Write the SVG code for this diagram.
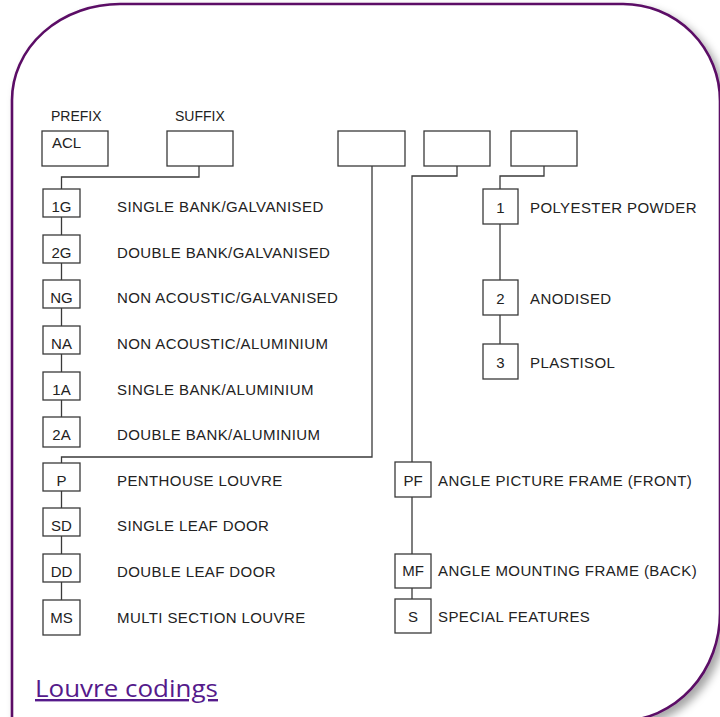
<svg xmlns="http://www.w3.org/2000/svg" width="720" height="717" viewBox="0 0 720 717">
<defs>
<filter id="sh" x="-10%" y="-10%" width="130%" height="130%">
<feDropShadow dx="5" dy="5" stdDeviation="4" flood-color="#000" flood-opacity="0.35"/>
</filter>
<style>
.b{fill:none;stroke:#3a3a3a;stroke-width:1.3}
.c{fill:none;stroke:#3a3a3a;stroke-width:1.3}
.t{font-family:"Liberation Sans",Arial,sans-serif;font-size:15px;fill:#222}
.d{letter-spacing:0.4px}
.h{font-size:14px}
.m{text-anchor:middle}
.lnk{font-family:"Open Sans","Noto Sans",sans-serif;font-size:24px;fill:#551A8B;text-decoration:underline}
</style>
</defs>
<rect width="720" height="717" fill="#fff"/>
<path id="frame" d="M12,722 L12,100 A108,96 0 0 1 120,4 L623,4 A97,97 0 0 1 720,101 L720,613 A100,108 0 0 1 621,721 L12,722 Z" fill="#fff" stroke="#5b0f66" stroke-width="2.6" filter="url(#sh)"/>

<g id="connectors">
<path class="c" d="M199,166 V177 H61.5 V189"/>
<path class="c" d="M61.5,217 V235 M61.5,263 V280 M61.5,308 V326 M61.5,354 V372 M61.5,400 V417"/>
<path class="c" d="M372,166 V457 H61.5 V463"/>
<path class="c" d="M61.5,491 V508 M61.5,536 V554 M61.5,582 V600"/>
<path class="c" d="M457,166 V176 H412 V462 M412,497 V554 M412,588 V599"/>
<path class="c" d="M544,166 V176 H500 V189 M500,224 V280 M500,315 V344"/>
</g>

<g id="prefix">
<text class="t h" x="51" y="121">PREFIX</text>
<rect class="b" x="42" y="131" width="66" height="35"/>
<text class="t" x="52" y="148">ACL</text>
</g>
<g id="suffix">
<text class="t h" x="175" y="121">SUFFIX</text>
<rect class="b" x="167" y="131" width="66" height="35"/>
</g>
<g id="boxA"><rect class="b" x="338" y="131" width="67" height="35"/></g>
<g id="boxB"><rect class="b" x="424" y="131" width="66" height="35"/></g>
<g id="boxC"><rect class="b" x="511" y="131" width="66" height="35"/></g>

<g id="n1G"><rect class="b" x="43" y="189" width="37" height="28"/><text class="t m" x="61.5" y="212">1G</text><text class="t d" x="117" y="212">SINGLE BANK/GALVANISED</text></g>
<g id="n2G"><rect class="b" x="43" y="235" width="37" height="28"/><text class="t m" x="61.5" y="258">2G</text><text class="t d" x="117" y="258">DOUBLE BANK/GALVANISED</text></g>
<g id="nNG"><rect class="b" x="43" y="280" width="37" height="28"/><text class="t m" x="61.5" y="303">NG</text><text class="t d" x="117" y="303">NON ACOUSTIC/GALVANISED</text></g>
<g id="nNA"><rect class="b" x="43" y="326" width="37" height="28"/><text class="t m" x="61.5" y="349">NA</text><text class="t d" x="117" y="349">NON ACOUSTIC/ALUMINIUM</text></g>
<g id="n1A"><rect class="b" x="43" y="372" width="37" height="28"/><text class="t m" x="61.5" y="395">1A</text><text class="t d" x="117" y="395">SINGLE BANK/ALUMINIUM</text></g>
<g id="n2A"><rect class="b" x="43" y="417" width="37" height="30"/><text class="t m" x="61.5" y="440">2A</text><text class="t d" x="117" y="440">DOUBLE BANK/ALUMINIUM</text></g>
<g id="nP"><rect class="b" x="43" y="463" width="37" height="28"/><text class="t m" x="61.5" y="486">P</text><text class="t d" x="117" y="486">PENTHOUSE LOUVRE</text></g>
<g id="nSD"><rect class="b" x="43" y="508" width="37" height="28"/><text class="t m" x="61.5" y="531">SD</text><text class="t d" x="117" y="531">SINGLE LEAF DOOR</text></g>
<g id="nDD"><rect class="b" x="43" y="554" width="37" height="28"/><text class="t m" x="61.5" y="577">DD</text><text class="t d" x="117" y="577">DOUBLE LEAF DOOR</text></g>
<g id="nMS"><rect class="b" x="43" y="600" width="37" height="35"/><text class="t m" x="61.5" y="623">MS</text><text class="t d" x="117" y="623">MULTI SECTION LOUVRE</text></g>

<g id="n1"><rect class="b" x="483" y="189" width="35" height="35"/><text class="t m" x="500.5" y="213">1</text><text class="t d" x="530" y="213">POLYESTER POWDER</text></g>
<g id="n2"><rect class="b" x="483" y="280" width="35" height="35"/><text class="t m" x="500.5" y="304">2</text><text class="t d" x="530" y="304">ANODISED</text></g>
<g id="n3"><rect class="b" x="483" y="344" width="35" height="35"/><text class="t m" x="500.5" y="368">3</text><text class="t d" x="530" y="368">PLASTISOL</text></g>

<g id="nPF"><rect class="b" x="395" y="462" width="36" height="35"/><text class="t m" x="413" y="486">PF</text><text class="t d" x="438" y="486">ANGLE PICTURE FRAME (FRONT)</text></g>
<g id="nMF"><rect class="b" x="395" y="554" width="36" height="34"/><text class="t m" x="413" y="576">MF</text><text class="t d" x="438" y="576">ANGLE MOUNTING FRAME (BACK)</text></g>
<g id="nS"><rect class="b" x="395" y="599" width="36" height="34"/><text class="t m" x="413" y="622">S</text><text class="t d" x="438" y="622">SPECIAL FEATURES</text></g>

<g id="link"><text class="lnk" x="35" y="697" textLength="183" lengthAdjust="spacingAndGlyphs">Louvre codings</text></g>
</svg>
